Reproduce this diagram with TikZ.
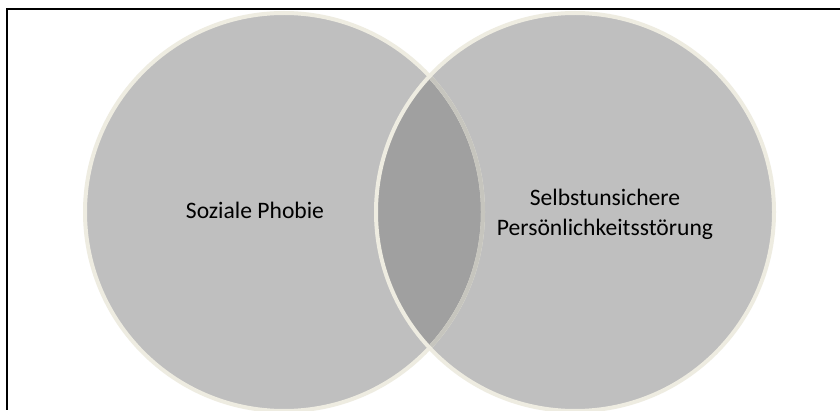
\documentclass[tikz,border=0pt]{standalone}
\usepackage{fontspec}
\setmainfont{Carlito}
\definecolor{circfill}{HTML}{BFBFBF}
\definecolor{lensfill}{HTML}{A0A0A0}
\definecolor{ringcol}{HTML}{EEECE1}
\definecolor{ringdark}{HTML}{C6C5BE}
\begin{document}
\begin{tikzpicture}[x=1pt,y=1pt,
  ring/.style={draw=ringcol,line width=4pt},
  lbl/.style={font=\fontsize{23.6}{29.5}\selectfont,text=black,align=center,inner sep=0pt}]
\useasboundingbox (0,0) rectangle (840,410);
\clip (0,0) rectangle (840,410);
\fill[white] (0,0) rectangle (840,410);
\coordinate (cl) at (284,198);
\coordinate (cr) at (575,198);
% fills
\fill[circfill] (cl) circle[radius=199];
\fill[circfill] (cr) circle[radius=199];
\begin{scope}
  \clip (cr) circle[radius=199];
  \fill[lensfill] (cl) circle[radius=199];
\end{scope}
% left ring
\draw[ring] (cl) circle[radius=199];
\begin{scope}
  \clip (cr) circle[radius=199];
  \draw[draw=ringdark,line width=4pt] (cl) circle[radius=199];
\end{scope}
% right ring
\draw[ring] (cr) circle[radius=199];
% frame
\coordinate (ftl) at (6.5,400.5);
\coordinate (ftr) at (840,400.5);
\coordinate (fbl) at (6.5,0);
\draw[line width=2pt,black] (ftr) -- (ftl) -- (fbl);
% labels
\node[lbl,anchor=base] (soz) at (255,191) {Soziale Phobie};
\node[lbl,anchor=base] (sel) at (605,175) {Selbstunsichere\\Persönlichkeitsstörung};
\end{tikzpicture}
\end{document}
